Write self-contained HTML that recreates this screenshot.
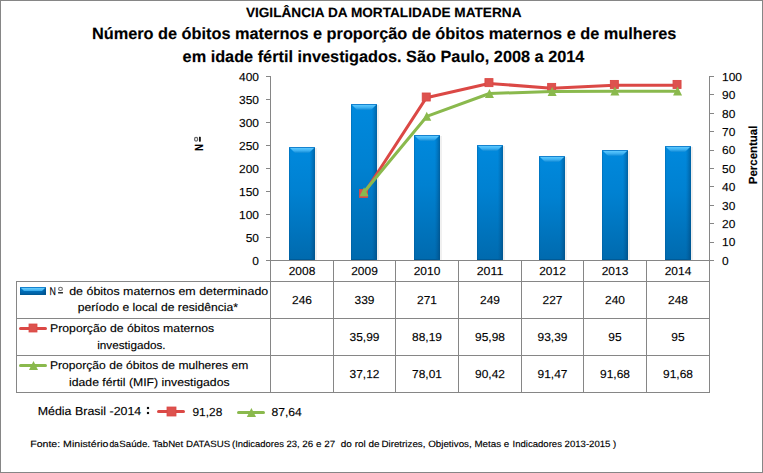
<!DOCTYPE html>
<html><head><meta charset="utf-8"><style>
html,body{margin:0;padding:0;background:#fff;}
body{width:763px;height:473px;overflow:hidden;font-family:"Liberation Sans", sans-serif;}
svg{display:block;}
svg text{white-space:pre;}
</style></head><body>
<svg width="763" height="473" viewBox="0 0 763 473" font-family='"Liberation Sans", sans-serif' text-rendering="geometricPrecision">
<defs>
<linearGradient id="barv" x1="0" y1="0" x2="0" y2="1"><stop offset="0" stop-color="#0089DD"/><stop offset="0.4" stop-color="#0081D1"/><stop offset="1" stop-color="#006AAE"/></linearGradient>
<linearGradient id="barh" x1="0" y1="0" x2="1" y2="0"><stop offset="0" stop-color="#00457F" stop-opacity="0.35"/><stop offset="0.06" stop-color="#00457F" stop-opacity="0.0"/><stop offset="0.80" stop-color="#00457F" stop-opacity="0.0"/><stop offset="1" stop-color="#00355F" stop-opacity="0.45"/></linearGradient>
<linearGradient id="bevel" x1="0" y1="0" x2="0" y2="1"><stop offset="0" stop-color="#5CC9FF"/><stop offset="0.55" stop-color="#3AAEF0"/><stop offset="1" stop-color="#0A88D6"/></linearGradient>
<linearGradient id="keyv" x1="0" y1="0" x2="0" y2="1"><stop offset="0" stop-color="#0A86D8"/><stop offset="0.5" stop-color="#0070BA"/><stop offset="1" stop-color="#00589A"/></linearGradient>
<linearGradient id="keybev" x1="0" y1="0" x2="0" y2="1"><stop offset="0" stop-color="#6BD0FF"/><stop offset="1" stop-color="#35A8EA"/></linearGradient>
</defs>
<rect x="0.5" y="0.5" width="762" height="472" fill="#fff" stroke="#868686" stroke-width="1"/>
<rect x="315" y="148" width="2" height="112" fill="#000" opacity="0.06"/>
<rect x="289" y="147" width="26" height="113" fill="url(#barv)"/>
<rect x="289" y="147" width="26" height="113" fill="url(#barh)"/>
<polygon points="290,148 314,148 309,153 295,153" fill="url(#bevel)"/>
<rect x="289" y="147" width="26" height="1" fill="#1683CF"/>
<rect x="289" y="259" width="26" height="1" fill="#005A96"/>
<rect x="377" y="105" width="2" height="155" fill="#000" opacity="0.06"/>
<rect x="351" y="104" width="26" height="156" fill="url(#barv)"/>
<rect x="351" y="104" width="26" height="156" fill="url(#barh)"/>
<polygon points="352,105 376,105 371,110 357,110" fill="url(#bevel)"/>
<rect x="351" y="104" width="26" height="1" fill="#1683CF"/>
<rect x="351" y="259" width="26" height="1" fill="#005A96"/>
<rect x="440" y="136" width="2" height="124" fill="#000" opacity="0.06"/>
<rect x="414" y="135" width="26" height="125" fill="url(#barv)"/>
<rect x="414" y="135" width="26" height="125" fill="url(#barh)"/>
<polygon points="415,136 439,136 434,141 420,141" fill="url(#bevel)"/>
<rect x="414" y="135" width="26" height="1" fill="#1683CF"/>
<rect x="414" y="259" width="26" height="1" fill="#005A96"/>
<rect x="503" y="146" width="2" height="114" fill="#000" opacity="0.06"/>
<rect x="477" y="145" width="26" height="115" fill="url(#barv)"/>
<rect x="477" y="145" width="26" height="115" fill="url(#barh)"/>
<polygon points="478,146 502,146 497,151 483,151" fill="url(#bevel)"/>
<rect x="477" y="145" width="26" height="1" fill="#1683CF"/>
<rect x="477" y="259" width="26" height="1" fill="#005A96"/>
<rect x="565" y="157" width="2" height="103" fill="#000" opacity="0.06"/>
<rect x="539" y="156" width="26" height="104" fill="url(#barv)"/>
<rect x="539" y="156" width="26" height="104" fill="url(#barh)"/>
<polygon points="540,157 564,157 559,162 545,162" fill="url(#bevel)"/>
<rect x="539" y="156" width="26" height="1" fill="#1683CF"/>
<rect x="539" y="259" width="26" height="1" fill="#005A96"/>
<rect x="628" y="151" width="2" height="109" fill="#000" opacity="0.06"/>
<rect x="602" y="150" width="26" height="110" fill="url(#barv)"/>
<rect x="602" y="150" width="26" height="110" fill="url(#barh)"/>
<polygon points="603,151 627,151 622,156 608,156" fill="url(#bevel)"/>
<rect x="602" y="150" width="26" height="1" fill="#1683CF"/>
<rect x="602" y="259" width="26" height="1" fill="#005A96"/>
<rect x="691" y="147" width="2" height="113" fill="#000" opacity="0.06"/>
<rect x="665" y="146" width="26" height="114" fill="url(#barv)"/>
<rect x="665" y="146" width="26" height="114" fill="url(#barh)"/>
<polygon points="666,147 690,147 685,152 671,152" fill="url(#bevel)"/>
<rect x="665" y="146" width="26" height="1" fill="#1683CF"/>
<rect x="665" y="259" width="26" height="1" fill="#005A96"/>
<rect x="270" y="76" width="1" height="317" fill="#868686"/>
<rect x="709" y="76" width="1" height="317" fill="#868686"/>
<rect x="266" y="76" width="4" height="1" fill="#868686"/>
<rect x="266" y="99" width="4" height="1" fill="#868686"/>
<rect x="266" y="122" width="4" height="1" fill="#868686"/>
<rect x="266" y="145" width="4" height="1" fill="#868686"/>
<rect x="266" y="168" width="4" height="1" fill="#868686"/>
<rect x="266" y="191" width="4" height="1" fill="#868686"/>
<rect x="266" y="214" width="4" height="1" fill="#868686"/>
<rect x="266" y="237" width="4" height="1" fill="#868686"/>
<rect x="266" y="260" width="4" height="1" fill="#868686"/>
<rect x="710" y="76" width="4" height="1" fill="#868686"/>
<rect x="710" y="94" width="4" height="1" fill="#868686"/>
<rect x="710" y="113" width="4" height="1" fill="#868686"/>
<rect x="710" y="131" width="4" height="1" fill="#868686"/>
<rect x="710" y="150" width="4" height="1" fill="#868686"/>
<rect x="710" y="168" width="4" height="1" fill="#868686"/>
<rect x="710" y="186" width="4" height="1" fill="#868686"/>
<rect x="710" y="205" width="4" height="1" fill="#868686"/>
<rect x="710" y="223" width="4" height="1" fill="#868686"/>
<rect x="710" y="242" width="4" height="1" fill="#868686"/>
<rect x="710" y="260" width="4" height="1" fill="#868686"/>
<rect x="266" y="260" width="448" height="1" fill="#868686"/>
<rect x="16" y="281" width="694" height="1" fill="#868686"/>
<rect x="16" y="318" width="694" height="1" fill="#868686"/>
<rect x="16" y="355" width="694" height="1" fill="#868686"/>
<rect x="16" y="392" width="694" height="1" fill="#868686"/>
<rect x="16" y="281" width="1" height="112" fill="#868686"/>
<rect x="333" y="260" width="1" height="133" fill="#868686"/>
<rect x="395" y="260" width="1" height="133" fill="#868686"/>
<rect x="458" y="260" width="1" height="133" fill="#868686"/>
<rect x="521" y="260" width="1" height="133" fill="#868686"/>
<rect x="583" y="260" width="1" height="133" fill="#868686"/>
<rect x="646" y="260" width="1" height="133" fill="#868686"/>
<polyline points="363.55,194.23 426.25,97.81 488.95,83.42 551.65,88.21 614.35,85.23 677.05,85.23" fill="none" stroke="#DB4845" stroke-width="3" stroke-linejoin="round" stroke-linecap="round"/>
<rect x="359.55" y="189.43" width="8" height="8" fill="#DD524E" stroke="#DB4845" stroke-width="0.9"/>
<rect x="422.25" y="93.01" width="8" height="8" fill="#DD524E" stroke="#DB4845" stroke-width="0.9"/>
<rect x="484.95" y="78.62" width="8" height="8" fill="#DD524E" stroke="#DB4845" stroke-width="0.9"/>
<rect x="547.65" y="83.41" width="8" height="8" fill="#DD524E" stroke="#DB4845" stroke-width="0.9"/>
<rect x="610.35" y="80.43" width="8" height="8" fill="#DD524E" stroke="#DB4845" stroke-width="0.9"/>
<rect x="673.05" y="80.43" width="8" height="8" fill="#DD524E" stroke="#DB4845" stroke-width="0.9"/>
<polyline points="364.05,191.94 426.75,116.42 489.45,93.49 552.15,91.55 614.85,91.17 677.55,91.17" fill="none" stroke="#8AB94D" stroke-width="3" stroke-linejoin="round" stroke-linecap="round"/>
<polygon points="364.05,187.34 368.55,196.34 359.55,196.34" fill="#8AB94D"/>
<polygon points="426.75,111.82 431.25,120.82 422.25,120.82" fill="#8AB94D"/>
<polygon points="489.45,88.89 493.95,97.89 484.95,97.89" fill="#8AB94D"/>
<polygon points="552.15,86.95 556.65,95.95 547.65,95.95" fill="#8AB94D"/>
<polygon points="614.85,86.57 619.35,95.57 610.35,95.57" fill="#8AB94D"/>
<polygon points="677.55,86.57 682.05,95.57 673.05,95.57" fill="#8AB94D"/>
<rect x="20" y="287" width="26" height="8" fill="url(#keyv)"/>
<rect x="20" y="287" width="26" height="8" fill="url(#barh)"/>
<polygon points="21,288 45,288 42,291 24,291" fill="url(#keybev)"/>
<rect x="20" y="287" width="26" height="1" fill="#1683CF"/>
<rect x="20" y="294" width="26" height="1" fill="#005A96"/>
<line x1="20.5" y1="328.5" x2="45.5" y2="328.5" stroke="#DB4845" stroke-width="3" stroke-linecap="round"/>
<rect x="29" y="324" width="8" height="8" fill="#DD524E" stroke="#DB4845" stroke-width="0.8"/>
<line x1="20.5" y1="365.5" x2="45.5" y2="365.5" stroke="#8AB94D" stroke-width="3" stroke-linecap="round"/>
<polygon points="33.5,361 38.0,370 29.0,370" fill="#8AB94D"/>
<line x1="158.5" y1="411.5" x2="183.5" y2="411.5" stroke="#DB4845" stroke-width="3" stroke-linecap="round"/>
<rect x="167" y="407" width="9" height="9" fill="#DD524E" stroke="#DB4845" stroke-width="0.8"/>
<line x1="238.5" y1="412.5" x2="263.5" y2="412.5" stroke="#8AB94D" stroke-width="3" stroke-linecap="round"/>
<polygon points="251.4,408 256.0,417 246.8,417" fill="#8AB94D"/>
<g font-family='"Liberation Sans", sans-serif' stroke="#000" stroke-width="0.25" stroke-opacity="0.6">
<text x="245.90" y="16.80" font-size="13.4" font-weight="700" textLength="275.60" lengthAdjust="spacingAndGlyphs" fill="#000">VIGILÂNCIA DA MORTALIDADE MATERNA</text>
<text x="91.90" y="38.80" font-size="16.3" font-weight="700" textLength="584.50" lengthAdjust="spacingAndGlyphs" fill="#000">Número de óbitos maternos e proporção de óbitos maternos e de mulheres</text>
<text x="182.60" y="61.70" font-size="16.3" font-weight="700" textLength="401.80" lengthAdjust="spacingAndGlyphs" fill="#000">em idade fértil investigados. São Paulo, 2008 a 2014</text>
<text x="259.00" y="80.80" font-size="11.6" text-anchor="end" textLength="19.95" lengthAdjust="spacingAndGlyphs" fill="#000">400</text>
<text x="259.00" y="103.80" font-size="11.6" text-anchor="end" textLength="19.95" lengthAdjust="spacingAndGlyphs" fill="#000">350</text>
<text x="259.00" y="126.80" font-size="11.6" text-anchor="end" textLength="19.95" lengthAdjust="spacingAndGlyphs" fill="#000">300</text>
<text x="259.00" y="149.80" font-size="11.6" text-anchor="end" textLength="19.95" lengthAdjust="spacingAndGlyphs" fill="#000">250</text>
<text x="259.00" y="172.80" font-size="11.6" text-anchor="end" textLength="19.95" lengthAdjust="spacingAndGlyphs" fill="#000">200</text>
<text x="259.00" y="195.80" font-size="11.6" text-anchor="end" textLength="19.95" lengthAdjust="spacingAndGlyphs" fill="#000">150</text>
<text x="259.00" y="218.80" font-size="11.6" text-anchor="end" textLength="19.95" lengthAdjust="spacingAndGlyphs" fill="#000">100</text>
<text x="259.00" y="241.80" font-size="11.6" text-anchor="end" textLength="13.30" lengthAdjust="spacingAndGlyphs" fill="#000">50</text>
<text x="259.00" y="264.80" font-size="11.6" text-anchor="end" textLength="6.65" lengthAdjust="spacingAndGlyphs" fill="#000">0</text>
<text x="722.00" y="80.80" font-size="11.6" textLength="19.95" lengthAdjust="spacingAndGlyphs" fill="#000">100</text>
<text x="722.00" y="99.20" font-size="11.6" textLength="13.30" lengthAdjust="spacingAndGlyphs" fill="#000">90</text>
<text x="722.00" y="117.60" font-size="11.6" textLength="13.30" lengthAdjust="spacingAndGlyphs" fill="#000">80</text>
<text x="722.00" y="136.00" font-size="11.6" textLength="13.30" lengthAdjust="spacingAndGlyphs" fill="#000">70</text>
<text x="722.00" y="154.40" font-size="11.6" textLength="13.30" lengthAdjust="spacingAndGlyphs" fill="#000">60</text>
<text x="722.00" y="172.80" font-size="11.6" textLength="13.30" lengthAdjust="spacingAndGlyphs" fill="#000">50</text>
<text x="722.00" y="191.20" font-size="11.6" textLength="13.30" lengthAdjust="spacingAndGlyphs" fill="#000">40</text>
<text x="722.00" y="209.60" font-size="11.6" textLength="13.30" lengthAdjust="spacingAndGlyphs" fill="#000">30</text>
<text x="722.00" y="228.00" font-size="11.6" textLength="13.30" lengthAdjust="spacingAndGlyphs" fill="#000">20</text>
<text x="722.00" y="246.40" font-size="11.6" textLength="13.30" lengthAdjust="spacingAndGlyphs" fill="#000">10</text>
<text x="722.00" y="264.80" font-size="11.6" textLength="6.65" lengthAdjust="spacingAndGlyphs" fill="#000">0</text>
<text transform="translate(203.0,150.9) rotate(-90)" font-size="11.8" font-weight="700" textLength="7.0" lengthAdjust="spacingAndGlyphs">N</text>
<ellipse cx="196.1" cy="139.2" rx="1.55" ry="1.85" fill="none" stroke="#000" stroke-width="1.25"/>
<rect x="199.1" y="136.9" width="1.6" height="4.7" fill="#000"/>
<text transform="translate(757.1,184.2) rotate(-90)" font-size="11.8" font-weight="700" textLength="58.6" lengthAdjust="spacingAndGlyphs">Percentual</text>
<text x="302.00" y="274.80" font-size="11.6" text-anchor="middle" textLength="26.60" lengthAdjust="spacingAndGlyphs" fill="#000">2008</text>
<text x="364.50" y="274.80" font-size="11.6" text-anchor="middle" textLength="26.60" lengthAdjust="spacingAndGlyphs" fill="#000">2009</text>
<text x="427.00" y="274.80" font-size="11.6" text-anchor="middle" textLength="26.60" lengthAdjust="spacingAndGlyphs" fill="#000">2010</text>
<text x="490.00" y="274.80" font-size="11.6" text-anchor="middle" textLength="26.60" lengthAdjust="spacingAndGlyphs" fill="#000">2011</text>
<text x="552.50" y="274.80" font-size="11.6" text-anchor="middle" textLength="26.60" lengthAdjust="spacingAndGlyphs" fill="#000">2012</text>
<text x="615.00" y="274.80" font-size="11.6" text-anchor="middle" textLength="26.60" lengthAdjust="spacingAndGlyphs" fill="#000">2013</text>
<text x="678.00" y="274.80" font-size="11.6" text-anchor="middle" textLength="26.60" lengthAdjust="spacingAndGlyphs" fill="#000">2014</text>
<text x="302.00" y="304.30" font-size="11.6" text-anchor="middle" textLength="19.95" lengthAdjust="spacingAndGlyphs" fill="#000">246</text>
<text x="364.50" y="304.30" font-size="11.6" text-anchor="middle" textLength="19.95" lengthAdjust="spacingAndGlyphs" fill="#000">339</text>
<text x="427.00" y="304.30" font-size="11.6" text-anchor="middle" textLength="19.95" lengthAdjust="spacingAndGlyphs" fill="#000">271</text>
<text x="490.00" y="304.30" font-size="11.6" text-anchor="middle" textLength="19.95" lengthAdjust="spacingAndGlyphs" fill="#000">249</text>
<text x="552.50" y="304.30" font-size="11.6" text-anchor="middle" textLength="19.95" lengthAdjust="spacingAndGlyphs" fill="#000">227</text>
<text x="615.00" y="304.30" font-size="11.6" text-anchor="middle" textLength="19.95" lengthAdjust="spacingAndGlyphs" fill="#000">240</text>
<text x="678.00" y="304.30" font-size="11.6" text-anchor="middle" textLength="19.95" lengthAdjust="spacingAndGlyphs" fill="#000">248</text>
<text x="364.50" y="341.30" font-size="11.6" text-anchor="middle" textLength="29.90" lengthAdjust="spacingAndGlyphs" fill="#000">35,99</text>
<text x="427.00" y="341.30" font-size="11.6" text-anchor="middle" textLength="29.90" lengthAdjust="spacingAndGlyphs" fill="#000">88,19</text>
<text x="490.00" y="341.30" font-size="11.6" text-anchor="middle" textLength="29.90" lengthAdjust="spacingAndGlyphs" fill="#000">95,98</text>
<text x="552.50" y="341.30" font-size="11.6" text-anchor="middle" textLength="29.90" lengthAdjust="spacingAndGlyphs" fill="#000">93,39</text>
<text x="615.00" y="341.30" font-size="11.6" text-anchor="middle" textLength="13.30" lengthAdjust="spacingAndGlyphs" fill="#000">95</text>
<text x="678.00" y="341.30" font-size="11.6" text-anchor="middle" textLength="13.30" lengthAdjust="spacingAndGlyphs" fill="#000">95</text>
<text x="364.50" y="377.70" font-size="11.6" text-anchor="middle" textLength="29.90" lengthAdjust="spacingAndGlyphs" fill="#000">37,12</text>
<text x="427.00" y="377.70" font-size="11.6" text-anchor="middle" textLength="29.90" lengthAdjust="spacingAndGlyphs" fill="#000">78,01</text>
<text x="490.00" y="377.70" font-size="11.6" text-anchor="middle" textLength="29.90" lengthAdjust="spacingAndGlyphs" fill="#000">90,42</text>
<text x="552.50" y="377.70" font-size="11.6" text-anchor="middle" textLength="29.90" lengthAdjust="spacingAndGlyphs" fill="#000">91,47</text>
<text x="615.00" y="377.70" font-size="11.6" text-anchor="middle" textLength="29.90" lengthAdjust="spacingAndGlyphs" fill="#000">91,68</text>
<text x="678.00" y="377.70" font-size="11.6" text-anchor="middle" textLength="29.90" lengthAdjust="spacingAndGlyphs" fill="#000">91,68</text>
<text x="49.60" y="294.80" font-size="11.2" textLength="6.40" lengthAdjust="spacingAndGlyphs" fill="#000">N</text>
<ellipse cx="60.5" cy="288.9" rx="1.9" ry="1.6" fill="none" stroke="#000" stroke-width="1.05"/>
<rect x="58.2" y="292.2" width="4.7" height="1.1" fill="#000"/>
<text x="69.20" y="294.80" font-size="11.2" textLength="199.10" lengthAdjust="spacingAndGlyphs" fill="#000">de óbitos maternos em determinado</text>
<text x="77.80" y="311.30" font-size="11.2" textLength="160.20" lengthAdjust="spacingAndGlyphs" fill="#000">período e local de residência*</text>
<text x="50.00" y="331.80" font-size="11.2" textLength="164.20" lengthAdjust="spacingAndGlyphs" fill="#000">Proporção de óbitos maternos</text>
<text x="97.20" y="348.70" font-size="11.2" textLength="68.40" lengthAdjust="spacingAndGlyphs" fill="#000">investigados.</text>
<text x="50.00" y="368.80" font-size="11.2" textLength="198.30" lengthAdjust="spacingAndGlyphs" fill="#000">Proporção de óbitos de mulheres em</text>
<text x="69.00" y="385.70" font-size="11.2" textLength="160.60" lengthAdjust="spacingAndGlyphs" fill="#000">idade fértil (MIF) investigados</text>
<text x="37.70" y="414.80" font-size="11.6" textLength="103.60" lengthAdjust="spacingAndGlyphs" fill="#000">Média Brasil -2014</text>
<rect x="147" y="407" width="2" height="2" fill="#111"/><rect x="147" y="412" width="2" height="2" fill="#111"/>
<text x="192.50" y="415.70" font-size="11.6" textLength="29.80" lengthAdjust="spacingAndGlyphs" fill="#000">91,28</text>
<text x="271.40" y="415.70" font-size="11.6" textLength="30.40" lengthAdjust="spacingAndGlyphs" fill="#000">87,64</text>
<text x="30.20" y="446.50" font-size="9.1" textLength="78.20" lengthAdjust="spacingAndGlyphs" fill="#000">Fonte: Ministério</text>
<text x="109.40" y="446.50" font-size="9.1" textLength="9.40" lengthAdjust="spacingAndGlyphs" fill="#000">da</text>
<text x="119.30" y="446.50" font-size="9.1" textLength="110.90" lengthAdjust="spacingAndGlyphs" fill="#000">Saúde. TabNet DATASUS</text>
<text x="232.00" y="446.50" font-size="9.1" textLength="67.70" lengthAdjust="spacingAndGlyphs" fill="#000">(Indicadores 23,</text>
<text x="302.30" y="446.50" font-size="9.1" textLength="32.80" lengthAdjust="spacingAndGlyphs" fill="#000">26 e 27</text>
<text x="340.80" y="446.50" font-size="9.1" textLength="38.80" lengthAdjust="spacingAndGlyphs" fill="#000">do rol de</text>
<text x="381.40" y="446.50" font-size="9.1" textLength="127.90" lengthAdjust="spacingAndGlyphs" fill="#000">Diretrizes, Objetivos, Metas e</text>
<text x="512.50" y="446.50" font-size="9.1" textLength="103.70" lengthAdjust="spacingAndGlyphs" fill="#000">Indicadores 2013-2015 )</text>
</g>
</svg>
</body></html>
